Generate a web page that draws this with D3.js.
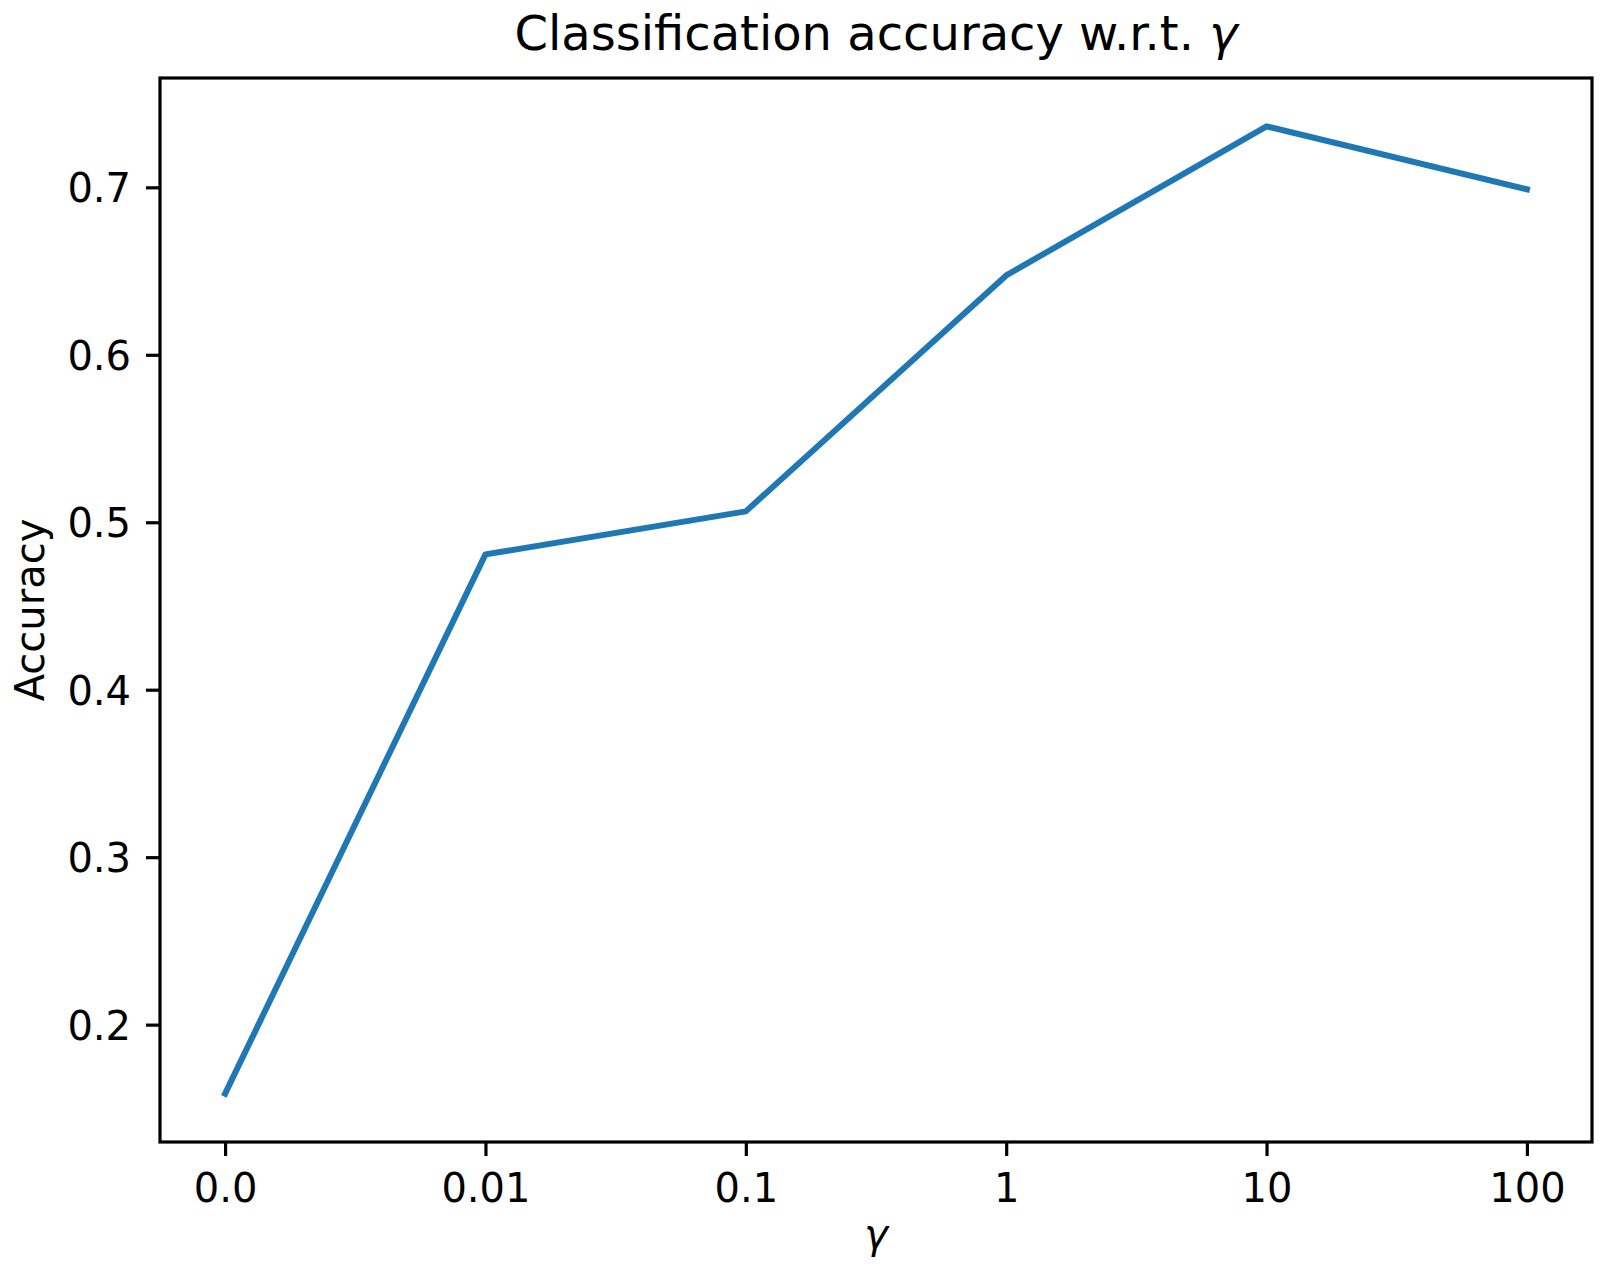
<!DOCTYPE html>
<html>
<head>
<meta charset="utf-8">
<style>
  body { margin: 0; background: #ffffff; }
  svg { display: block; }
  text { font-family: "DejaVu Sans", sans-serif; fill: #000000; }
  .tick line { stroke: #000000; stroke-width: 3.2; }
  .tick text { font-size: 40px; }
</style>
</head>
<body>
<div id="chart"></div>
<script src="https://cdnjs.cloudflare.com/ajax/libs/d3/7.8.5/d3.min.js"></script>
<script>
// gamma values on the x axis (categorical)
var gammaLabels = ["0.0", "0.01", "0.1", "1", "10", "100"];
// accuracy
var accuracy = [0.1588, 0.4808, 0.5065, 0.6474, 0.7364, 0.6988];
var yTicks = [0.2, 0.3, 0.4, 0.5, 0.6, 0.7];

var W = 1609, H = 1272;
var margin = {top: 78, right: 17, bottom: 130, left: 160};

var svg = d3.select("#chart").append("svg")
    .attr("width", W)
    .attr("height", H);

svg.append("rect").attr("width", W).attr("height", H).attr("fill", "#ffffff");

// matplotlib style 5% margins
var lo = d3.min(accuracy), hi = d3.max(accuracy);
var pad = (hi - lo) * 0.05;

var x = d3.scalePoint()
    .domain(gammaLabels)
    .range([margin.left, W - margin.right])
    .padding(0.25);

var y = d3.scaleLinear()
    .domain([lo - pad, hi + pad])
    .range([H - margin.bottom, margin.top]);

var xAxis = svg.append("g")
    .attr("transform", "translate(0," + (H - margin.bottom) + ")")
    .call(d3.axisBottom(x).tickSize(14).tickPadding(17.6));
xAxis.select(".domain").remove();

var yAxis = svg.append("g")
    .attr("transform", "translate(" + margin.left + ",0)")
    .call(d3.axisLeft(y).tickValues(yTicks).tickFormat(d3.format(".1f")).tickSize(14).tickPadding(15));
yAxis.select(".domain").remove();
yAxis.selectAll(".tick text").attr("dy", "0.36em");

// the line
var line = d3.line()
    .x(function(d, i) { return x(gammaLabels[i]); })
    .y(function(d) { return y(d); });

svg.append("path")
    .datum(accuracy)
    .attr("d", line)
    .attr("fill", "none")
    .attr("stroke", "#1f77b4")
    .attr("stroke-width", 6)
    .attr("stroke-linejoin", "round")
    .attr("stroke-linecap", "square");

// axes frame
svg.append("rect")
    .attr("x", margin.left)
    .attr("y", margin.top)
    .attr("width", W - margin.left - margin.right)
    .attr("height", H - margin.top - margin.bottom)
    .attr("fill", "none")
    .attr("stroke", "#000000")
    .attr("stroke-width", 3.2)
    .attr("stroke-linejoin", "miter");

// title
var title = svg.append("text")
    .attr("x", (margin.left + W - margin.right) / 2)
    .attr("y", 49.5)
    .attr("text-anchor", "middle")
    .style("font-size", "48px")
    .text("Classification accuracy w.r.t. ");
title.append("tspan").style("font-style", "italic").text("γ");

// x label
svg.append("text")
    .attr("x", (margin.left + W - margin.right) / 2)
    .attr("y", 1248)
    .attr("text-anchor", "middle")
    .style("font-size", "40px")
    .style("font-style", "italic")
    .text("γ");

// y label
svg.append("text")
    .attr("transform", "translate(44," + ((margin.top + H - margin.bottom) / 2) + ") rotate(-90)")
    .attr("text-anchor", "middle")
    .style("font-size", "40px")
    .text("Accuracy");
</script>
</body>
</html>
